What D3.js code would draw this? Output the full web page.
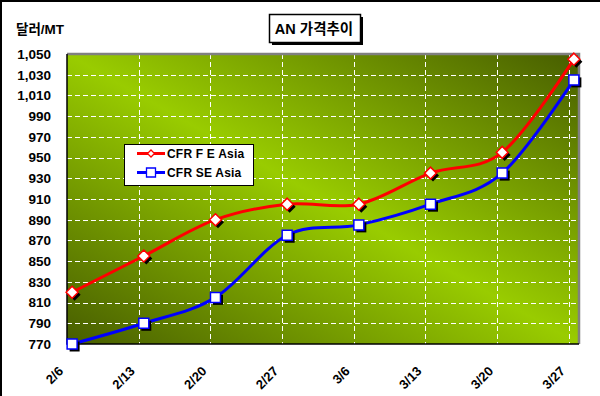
<!DOCTYPE html>
<html>
<head>
<meta charset="utf-8">
<script src="https://cdn.jsdelivr.net/npm/d3@7"></script>
<style>
  body { margin: 0; background: #fff; }
  svg { display: block; }
  text { font-family: "Liberation Sans", Arial, "Noto Sans CJK KR", sans-serif; font-weight: bold; fill: #000; }
</style>
</head>
<body>
<script>
// Data
let dates = ['2/6', '2/13', '2/20', '2/27', '3/6', '3/13', '3/20', '3/27'];
let feAsia = [820, 855, 890, 905, 905, 935, 955, 1045];
let seAsia = [770, 790, 815, 875, 885, 905, 935, 1025];
let yTicks = [770, 790, 810, 830, 850, 870, 890, 910, 930, 950, 970, 990, 1010, 1030, 1050];
let seriesNames = ['CFR F E Asia', 'CFR SE Asia'];
let title = 'AN 가격추이';
let unitLabel = '달러/MT';

let width = 600, height = 396;
let plot = {left: 67, right: 579, top: 54, bottom: 344};

let svg = d3.select('body').append('svg')
    .attr('width', width)
    .attr('height', height);

// date axis, points sit at noon of each day
let parseDate = s => {
    let p = s.split('/');
    return new Date(2006, +p[0] - 1, +p[1]);
};
let tickDates = dates.map(parseDate);
let x = d3.scaleTime()
    .domain([tickDates[0], d3.timeDay.offset(tickDates[tickDates.length - 1], 1)])
    .range([plot.left, plot.right]);
let xPoint = i => x(d3.timeHour.offset(tickDates[i], 12));

let y = d3.scaleLinear()
    .domain([770, 1050])
    .range([plot.bottom, plot.top]);

// outer frame
svg.append('rect').attr('width', width).attr('height', height).attr('fill', '#fff');
svg.append('path')
    .attr('d', `M1,${height} V1 H${width}`)
    .attr('fill', 'none')
    .attr('stroke', '#000')
    .attr('stroke-width', 2);

// plot background gradient
let defs = svg.append('defs');
let grad = defs.append('linearGradient')
    .attr('id', 'bg')
    .attr('x1', 0).attr('y1', 1)
    .attr('x2', 1).attr('y2', 0);
grad.append('stop').attr('offset', '0%').attr('stop-color', '#475d00');
grad.append('stop').attr('offset', '50%').attr('stop-color', '#99cc00');
grad.append('stop').attr('offset', '100%').attr('stop-color', '#475d00');

svg.append('rect')
    .attr('x', plot.left).attr('y', plot.top)
    .attr('width', plot.right - plot.left)
    .attr('height', plot.bottom - plot.top)
    .attr('fill', 'url(#bg)');

// grid
let grid = svg.append('g').attr('stroke', '#fff').attr('stroke-dasharray', '5,3').attr('stroke-width', 1);
grid.selectAll('.hgrid')
    .data(yTicks.slice(1, -1))
    .enter().append('line')
    .attr('x1', plot.left).attr('x2', plot.right)
    .attr('y1', d => Math.round(y(d)) + 0.5).attr('y2', d => Math.round(y(d)) + 0.5);
grid.selectAll('.vgrid')
    .data(tickDates.slice(1))
    .enter().append('line')
    .attr('y1', plot.top).attr('y2', plot.bottom)
    .attr('x1', d => Math.round(x(d)) + 0.5).attr('x2', d => Math.round(x(d)) + 0.5);

// plot border: gray top/right, black axes
svg.append('path')
    .attr('d', `M${plot.left},${plot.top} H${plot.right} V${plot.bottom}`)
    .attr('fill', 'none')
    .attr('stroke', '#808080')
    .attr('stroke-width', 2.5);
svg.append('path')
    .attr('d', `M${plot.left},${plot.top} V${plot.bottom} H${plot.right}`)
    .attr('fill', 'none')
    .attr('stroke', '#000')
    .attr('stroke-width', 1.5);

// y labels
svg.selectAll('.ylab')
    .data(yTicks)
    .enter().append('text')
    .attr('x', 51)
    .attr('y', d => y(d))
    .attr('dy', '0.36em')
    .attr('text-anchor', 'end')
    .style('font-size', '13.5px')
    .text(d => d3.format(',')(d));

// x labels
svg.selectAll('.xlab')
    .data(tickDates)
    .enter().append('text')
    .attr('text-anchor', 'end')
    .attr('transform', d => `translate(${x(d) - 3},372) rotate(-45)`)
    .style('font-size', '13px')
    .text((d, i) => dates[i]);

// lines
let line = d3.line()
    .x((d, i) => xPoint(i))
    .y(d => y(d))
    .curve(d3.curveCardinal.tension(0));

let series = [
    {name: seriesNames[0], values: feAsia, color: '#ff0000', shape: 'diamond'},
    {name: seriesNames[1], values: seAsia, color: '#0000ff', shape: 'square'}
];

let diamond = s => `M0,${-s} L${s},0 L0,${s} L${-s},0 Z`;
let square = s => `M${-s},${-s} H${s} V${s} H${-s} Z`;
let markerPath = (shape, s) => shape === 'diamond' ? diamond(s) : square(s);

series.forEach(sr => {
    svg.append('path')
        .datum(sr.values)
        .attr('d', line)
        .attr('fill', 'none')
        .attr('stroke', sr.color)
        .attr('stroke-width', 3);

    let size = sr.shape === 'diamond' ? 6 : 5;
    // shadows
    svg.selectAll(null)
        .data(sr.values)
        .enter().append('path')
        .attr('transform', (d, i) => `translate(${xPoint(i) + 2.5},${y(d) + 2.5})`)
        .attr('d', markerPath(sr.shape, size))
        .attr('fill', '#000');
    svg.selectAll(null)
        .data(sr.values)
        .enter().append('path')
        .attr('transform', (d, i) => `translate(${xPoint(i)},${y(d)})`)
        .attr('d', markerPath(sr.shape, size))
        .attr('fill', '#fff')
        .attr('stroke', sr.color)
        .attr('stroke-width', 1.5);
});

// legend
let legend = svg.append('g');
legend.append('rect')
    .attr('x', 124.5).attr('y', 144.5)
    .attr('width', 129).attr('height', 41)
    .attr('fill', '#fff')
    .attr('stroke', '#000')
    .attr('stroke-width', 1);
series.forEach((sr, i) => {
    let ly = 153.5 + i * 19;
    legend.append('line')
        .attr('x1', 137).attr('x2', 165)
        .attr('y1', ly).attr('y2', ly)
        .attr('stroke', sr.color)
        .attr('stroke-width', 3);
    legend.append('path')
        .attr('transform', `translate(151,${ly})`)
        .attr('d', markerPath(sr.shape, sr.shape === 'diamond' ? 3.5 : 4.5))
        .attr('fill', '#fff')
        .attr('stroke', sr.color)
        .attr('stroke-width', 1.3);
    legend.append('text')
        .attr('x', 167)
        .attr('y', ly + 4.5)
        .style('font-size', '12px')
        .style('letter-spacing', '0.2px')
        .text(sr.name);
});

// title box with shadow
svg.append('rect')
    .attr('x', 272).attr('y', 17)
    .attr('width', 91).attr('height', 28)
    .attr('fill', '#000');
svg.append('rect')
    .attr('x', 269.5).attr('y', 14.5)
    .attr('width', 91).attr('height', 28)
    .attr('fill', '#fff')
    .attr('stroke', '#000')
    .attr('stroke-width', 1.5);
svg.append('text')
    .attr('x', 314)
    .attr('y', 34)
    .attr('text-anchor', 'middle')
    .style('font-size', '14.5px')
    .text(title);

// unit label
svg.append('text')
    .attr('x', 16)
    .attr('y', 34)
    .style('font-size', '13.5px')
    .text(unitLabel);
</script>
</body>
</html>
